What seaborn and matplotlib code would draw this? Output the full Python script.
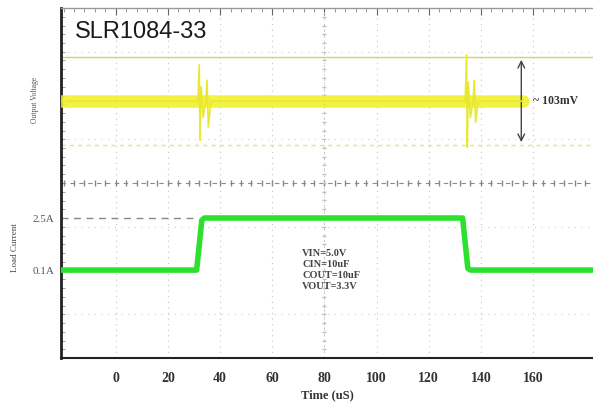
import numpy as np
import pandas as pd
import seaborn as sns
import matplotlib
matplotlib.use("Agg")
import matplotlib.pyplot as plt

# scope traces, x in uS, y in screen divisions (0 = bottom, 8 = top)
vout_band_t = [-21, 156]
vout_band_v = [5.87, 5.87]

vout_t = [-21, 31.5, 32, 32.3, 32.7, 33.5, 34.5, 35, 35.5, 36.5,
          134, 134.5, 134.8, 135.2, 136, 137, 137.5, 138, 139, 156]
vout_v = [5.87, 5.87, 6.70, 4.98, 6.2, 5.5, 5.87, 6.35, 5.28, 5.87,
          5.87, 6.93, 4.82, 6.3, 5.5, 5.87, 6.35, 5.39, 5.87, 5.87]

iload_t = [-21, 31, 33, 34, 133, 135, 136, 183]
iload_v = [2.01, 2.01, 3.15, 3.2, 3.2, 2.05, 2.01, 2.01]

ripple_hi = 6.88
ripple_lo = 4.87
ripple_t = 155.5

x_ticks = [0, 20, 40, 60, 80, 100, 120, 140, 160]
y_ticks = [2.01, 3.2]
y_ticklabels = ['0.1A', '2.5A']

sns.set_style("white")
plt.rcParams['font.family'] = ['DejaVu Sans']

fig = plt.figure(figsize=(5.93, 4.08), dpi=100)
ax = fig.add_axes([61/593, 50/408, 532/593, 350/408])

# grid, oscilloscope style
for x in x_ticks:
    ax.axvline(x, color='#c4c4c4', lw=0.8, ls=(0, (1, 4)), zorder=0)
for y in [1, 3, 5, 7]:
    ax.axhline(y, color='#d0d0d0', lw=0.8, ls=(0, (1, 5)), zorder=0)
ax.axhline(4, color='#8a8a8a', lw=0.8, ls=(0, (4, 4)), zorder=1)
ax.plot(np.arange(-20, 183, 4), [4]*len(np.arange(-20, 183, 4)), '|', color='#888888', ms=4, zorder=1)
ax.axvline(80, color='#c8c8c8', lw=0.7, ls=(0, (2, 4)), zorder=1)
ax.plot([80]*len(np.arange(0.2, 8, 0.2)), np.arange(0.2, 8, 0.2), '_', color='#c0c0c0', ms=3, zorder=1)

# ripple bounds
ax.axhline(ripple_hi, color='#d6d65a', lw=1.0, zorder=2)
ax.axhline(ripple_lo, color='#e4e48a', lw=1.0, ls=(0, (3, 3)), zorder=2)

# 2.5A reference dash
ax.plot([-21, iload_t[1]], [iload_v[3], iload_v[3]], color='#888888', lw=1.0, ls=(0, (5, 4)), zorder=2)

band = pd.DataFrame({'t': vout_band_t, 'v': vout_band_v})
sns.lineplot(data=band, x='t', y='v', ax=ax, color='#f0f020', lw=9, alpha=0.85, zorder=3)
vout = pd.DataFrame({'t': vout_t, 'v': vout_v})
sns.lineplot(data=vout, x='t', y='v', ax=ax, color='#e8e830', lw=1.2, zorder=4, sort=False)
iload = pd.DataFrame({'t': iload_t, 'v': iload_v})
sns.lineplot(data=iload, x='t', y='v', ax=ax, color='#2ee02e', lw=4.0, zorder=4, sort=False)

ax.annotate('', xy=(ripple_t, ripple_hi), xytext=(ripple_t, ripple_lo),
            arrowprops=dict(arrowstyle='<->', color='#444444', lw=1.0, mutation_scale=12))
ax.text(ripple_t + 4.5, 5.87, '~ 103mV', fontsize=8.5, family='Liberation Serif',
        weight='bold', color='#333333', va='center', ha='left')

ax.text(71.5, 2.5, 'VIN=5.0V\nCIN=10uF\nCOUT=10uF\nVOUT=3.3V', fontsize=7.5,
        family='Liberation Serif', weight='bold', color='#444444', va='top', ha='left',
        linespacing=1.3)

ax.text(0.026, 0.93, 'SLR1084-33', transform=ax.transAxes, fontsize=17,
        family='Liberation Sans', color='#1a1a1a', va='center', ha='left')

ax.set_xlim(-21, 183)
ax.set_ylim(0, 8)
ax.set_xticks(x_ticks)
ax.set_xticklabels([str(x) for x in x_ticks], family='Liberation Serif', weight='bold',
                   fontsize=10, color='#333333')
ax.set_yticks(y_ticks)
ax.set_yticklabels(y_ticklabels, family='Liberation Serif', fontsize=8, color='#555555')
ax.set_xticks(np.arange(-20, 183, 4), minor=True)
ax.set_yticks(np.arange(0, 8.01, 0.2), minor=True)
ax.tick_params(axis='x', which='major', direction='in', length=5, pad=10, color='#666666', top=True)
ax.tick_params(axis='x', which='minor', direction='in', length=3, color='#888888', top=True)
ax.tick_params(axis='y', which='major', direction='in', length=0, pad=5)
ax.tick_params(axis='y', which='minor', direction='in', length=3, color='#888888', left=True)
ax.set_xlabel('Time (uS)', family='Liberation Serif', weight='bold', fontsize=9,
              color='#333333', labelpad=3)
ax.set_ylabel('')

for s in ['left', 'bottom']:
    ax.spines[s].set_color('#222222')
ax.spines['left'].set_linewidth(2.0)
ax.spines['bottom'].set_linewidth(1.5)
ax.spines['top'].set_color('#999999')
ax.spines['top'].set_linewidth(1.0)
ax.spines['right'].set_visible(False)

fig.text(35/593, 1 - 100/408, 'Output Voltage', rotation=90, fontsize=5.5,
         family='Liberation Serif', color='#555555', ha='center', va='center')
fig.text(15/593, 1 - 248/408, 'Load Current', rotation=90, fontsize=6.5,
         family='Liberation Serif', color='#444444', ha='center', va='center')

fig.savefig('out.png', dpi=100)
